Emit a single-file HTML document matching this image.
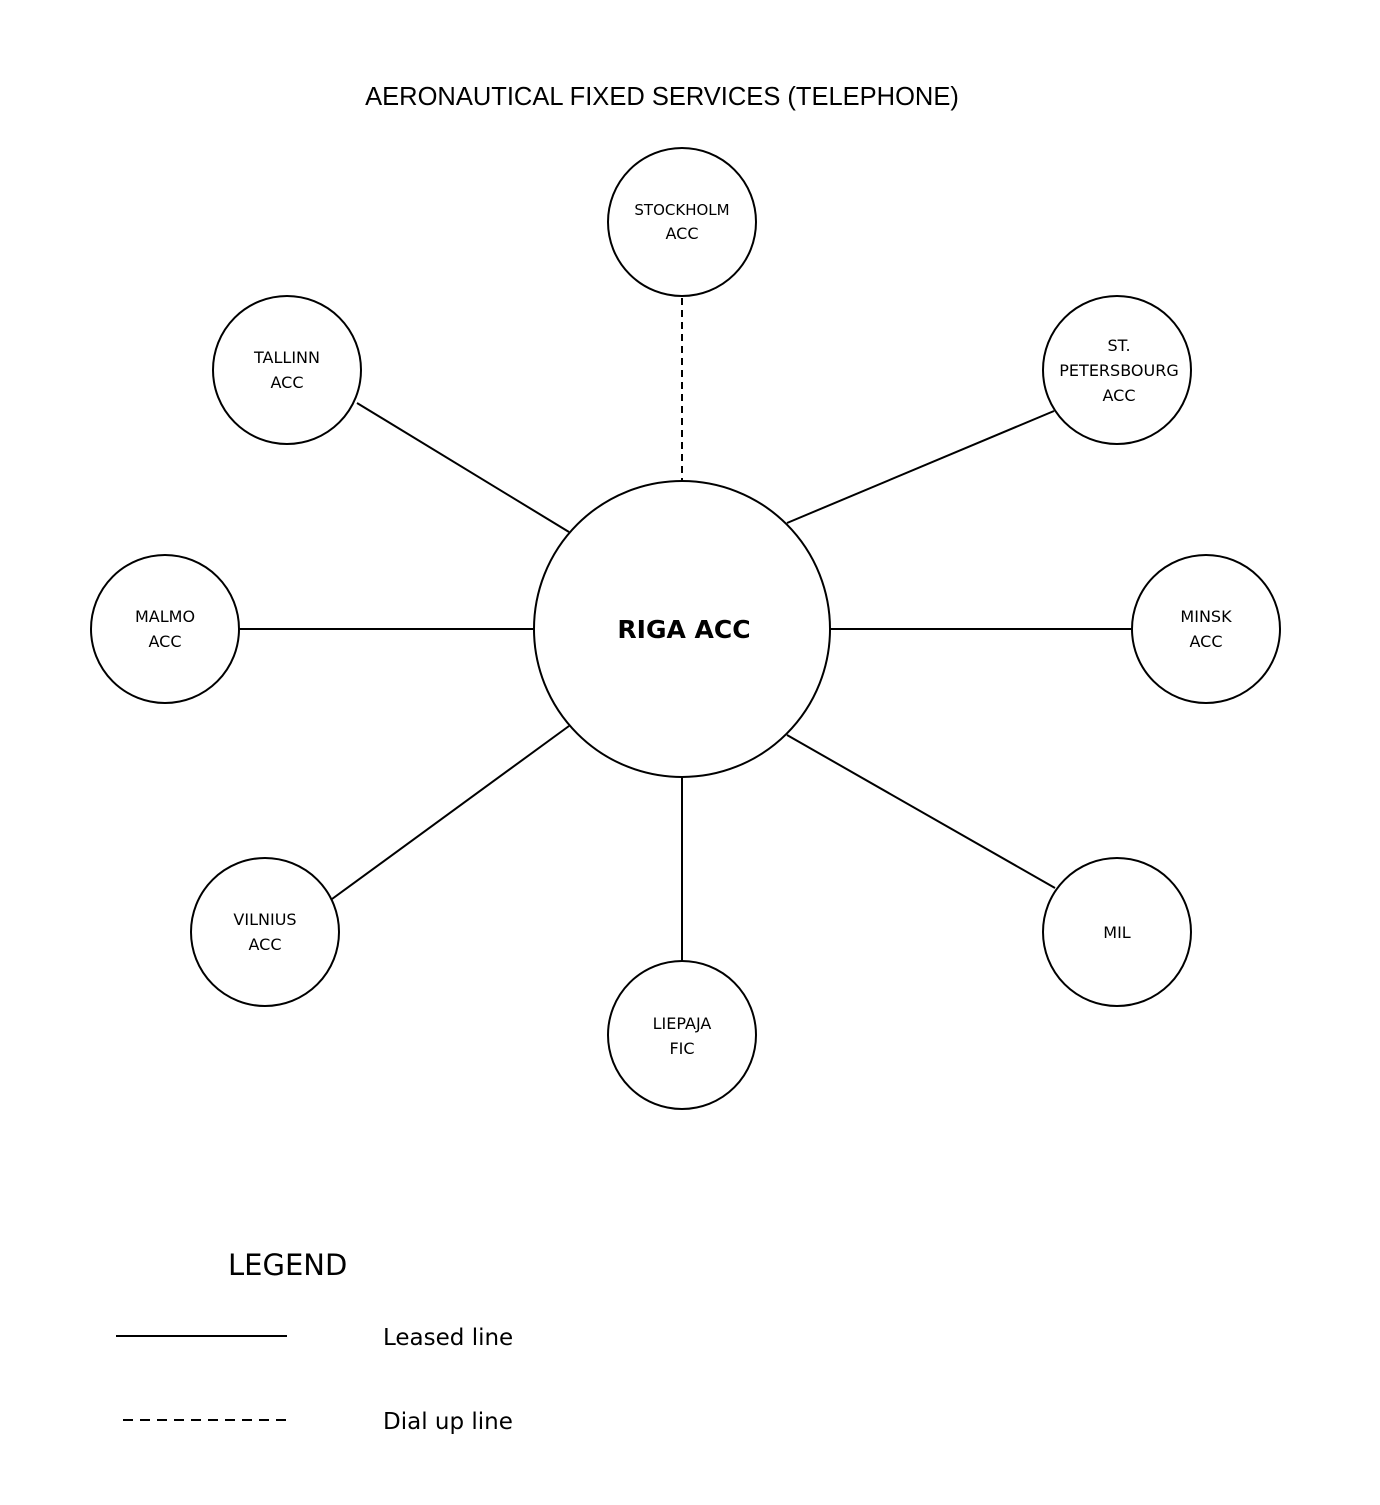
<!DOCTYPE html>
<html><head><meta charset="utf-8"><style>
html,body{margin:0;padding:0;background:#fff;}
</style></head><body>
<svg width="1380" height="1500" viewBox="0 0 1380 1500" xmlns="http://www.w3.org/2000/svg">
<rect width="1380" height="1500" fill="#fff"/>
<text x="662" y="105" font-family="Liberation Sans, sans-serif" font-size="25.5" text-anchor="middle">AERONAUTICAL FIXED SERVICES (TELEPHONE)</text>
<g stroke="#000" stroke-width="2" fill="none">
<line x1="357" y1="403" x2="569" y2="532"/>
<line x1="1054" y1="411" x2="787" y2="523"/>
<line x1="239" y1="629" x2="534" y2="629"/>
<line x1="830" y1="629" x2="1132" y2="629"/>
<line x1="332" y1="899" x2="569" y2="726"/>
<line x1="682" y1="777" x2="682" y2="961"/>
<line x1="787" y1="735" x2="1055" y2="888"/>
<line x1="682" y1="298" x2="682" y2="481" stroke-dasharray="7,5"/>
<circle cx="682" cy="222" r="74"/>
<circle cx="287" cy="370" r="74"/>
<circle cx="1117" cy="370" r="74"/>
<circle cx="165" cy="629" r="74"/>
<circle cx="1206" cy="629" r="74"/>
<circle cx="265" cy="932" r="74"/>
<circle cx="682" cy="1035" r="74"/>
<circle cx="1117" cy="932" r="74"/>
<circle cx="682" cy="629" r="148"/>
<line x1="116" y1="1336" x2="287" y2="1336"/>
<line x1="123" y1="1420" x2="287" y2="1420" stroke-dasharray="10,7"/>
</g>
<g font-family="DejaVu Sans, Liberation Sans, sans-serif" font-size="16" text-anchor="middle">
<text x="682" y="215" font-size="15">STOCKHOLM</text><text x="682" y="239">ACC</text>
<text x="287" y="363">TALLINN</text><text x="287" y="388">ACC</text>
<text x="1119" y="351">ST.</text><text x="1119" y="376">PETERSBOURG</text><text x="1119" y="401">ACC</text>
<text x="165" y="622">MALMO</text><text x="165" y="647">ACC</text>
<text x="1206" y="622">MINSK</text><text x="1206" y="647">ACC</text>
<text x="265" y="925">VILNIUS</text><text x="265" y="950">ACC</text>
<text x="682" y="1029">LIEPAJA</text><text x="682" y="1054">FIC</text>
<text x="1117" y="938">MIL</text>
<text x="684" y="638" font-size="25" font-weight="bold">RIGA ACC</text>
</g>
<g font-family="DejaVu Sans, Liberation Sans, sans-serif">
<text x="228" y="1275" font-size="29">LEGEND</text>
<text x="383" y="1345" font-size="23">Leased line</text>
<text x="383" y="1429" font-size="23">Dial up line</text>
</g>
</svg>
</body></html>
